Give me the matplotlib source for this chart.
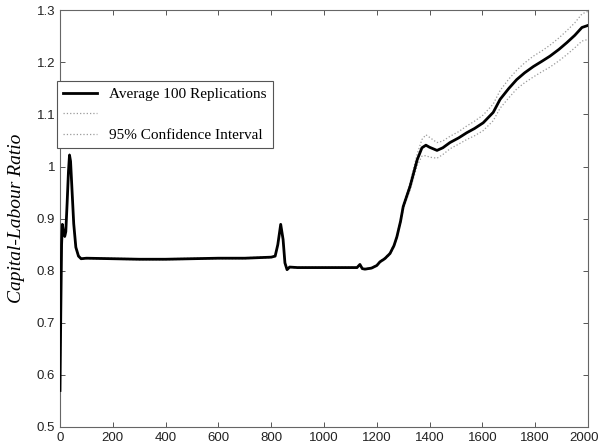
import matplotlib
matplotlib.use("Agg")
import matplotlib.pyplot as plt
from matplotlib.transforms import ScaledTranslation
import numpy as np

# values
t = [0, 3, 6, 9, 13, 18, 22, 27, 32, 36, 40, 45, 52, 60, 70, 80, 100, 200,
     300, 400, 500, 600, 700, 800, 815, 825, 836, 845, 852, 860, 870, 900,
     1000, 1100, 1125, 1136, 1145, 1155, 1180, 1200, 1212, 1230, 1250, 1265,
     1276, 1290, 1300, 1326, 1353, 1371, 1386, 1400, 1428, 1450, 1477, 1510,
     1541, 1570, 1603, 1641, 1667, 1700, 1730, 1760, 1793, 1825, 1856, 1890,
     1920, 1950, 1977, 2000]
avg = [0.57, 0.72, 0.85, 0.889, 0.875, 0.866, 0.875, 0.93, 0.99, 1.022,
       1.01, 0.96, 0.89, 0.845, 0.828, 0.823, 0.824, 0.823, 0.822, 0.822,
       0.823, 0.824, 0.824, 0.826, 0.828, 0.85, 0.889, 0.86, 0.815, 0.802,
       0.807, 0.806, 0.806, 0.806, 0.806, 0.812, 0.804, 0.803, 0.805, 0.81,
       0.817, 0.823, 0.833, 0.848, 0.865, 0.895, 0.923, 0.962, 1.013, 1.036,
       1.041, 1.037, 1.031, 1.036, 1.046, 1.055, 1.065, 1.073, 1.084, 1.104,
       1.129, 1.150, 1.167, 1.180, 1.192, 1.202, 1.212, 1.225, 1.238, 1.252,
       1.267, 1.271]
ci_half = [0.03, 0.01, 0.003, 0.002, 0.002, 0.002, 0.002, 0.002, 0.002, 0.002,
           0.002, 0.002, 0.002, 0.001, 0.001, 0.001, 0.001, 0.001, 0.001, 0.001,
           0.001, 0.001, 0.001, 0.001, 0.001, 0.001, 0.001, 0.001, 0.001, 0.001,
           0.001, 0.001, 0.001, 0.001, 0.001, 0.001, 0.001, 0.001, 0.001, 0.001,
           0.001, 0.002, 0.002, 0.003, 0.003, 0.004, 0.005, 0.007, 0.011, 0.016,
           0.02, 0.019, 0.015, 0.013, 0.012, 0.012, 0.013, 0.014, 0.015, 0.016,
           0.017, 0.018, 0.018, 0.019, 0.02, 0.02, 0.021, 0.022, 0.023, 0.024,
           0.026, 0.027]

avg = np.array(avg)
ci_half = np.array(ci_half)

fig = plt.figure(figsize=(6, 4.48), dpi=100)
ax = fig.add_axes([0.1, 0.047, 0.88, 0.93])

ax.plot(t, avg, color='black', linewidth=2.0, label='Average 100 Replications', zorder=3)
ax.plot(t, avg + ci_half, color='#9a9a9a', linestyle=':', linewidth=0.9, label=' ', zorder=2)
ax.plot(t, avg - ci_half, color='#9a9a9a', linestyle=':', linewidth=0.9,
        label='95% Confidence Interval', zorder=2)

ax.set_xlim(0, 2000)
ax.set_ylim(0.5, 1.3)
ax.set_xticks(np.arange(0, 2001, 200))
ax.set_yticks([0.5, 0.6, 0.7, 0.8, 0.9, 1.0, 1.1, 1.2, 1.3])
ax.set_yticklabels(['0.5', '0.6', '0.7', '0.8', '0.9', '1', '1.1', '1.2', '1.3'])
ax.tick_params(direction='in', top=True, right=True, length=3.5, width=0.7,
               colors='#555555', labelcolor='#222222', labelsize=9.5)
for lbl in ax.get_xticklabels() + ax.get_yticklabels():
    lbl.set_family('Liberation Sans')
# keep "2000" inside the picture
last = ax.get_xticklabels()[-1]
last.set_transform(last.get_transform() + ScaledTranslation(-3 / 72, 0, fig.dpi_scale_trans))
for s in ax.spines.values():
    s.set_color('#666666')
    s.set_linewidth(0.8)

ax.set_ylabel('Capital-Labour Ratio', family='Liberation Serif', style='italic',
              fontsize=14, labelpad=8)

leg = ax.legend(loc='upper left', bbox_to_anchor=(0.095, 0.819),
                bbox_transform=fig.transFigure, prop={'family': 'Liberation Serif', 'size': 11},
                fancybox=False, framealpha=1, edgecolor='#555555', borderaxespad=0,
                handlelength=2.2, labelspacing=0.45, borderpad=0.4)
leg.get_frame().set_linewidth(0.8)

fig.savefig('out.png', dpi=100)
